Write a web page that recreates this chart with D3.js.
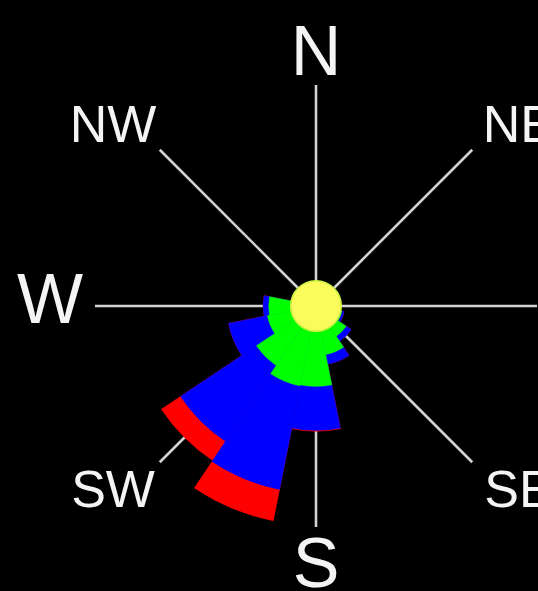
<!DOCTYPE html>
<html>
<head>
<meta charset="utf-8">
<script src="https://cdn.jsdelivr.net/npm/d3@7"></script>
<style>
  html, body { margin: 0; padding: 0; background: #000; }
  svg { display: block; }
</style>
</head>
<body>
<svg id="chart" width="538" height="591"></svg>
<script>
// 16 wind directions (bearing order, clockwise from North)
const directions = ["N","NNE","NE","ENE","E","ESE","SE","SSE","S","SSW","SW","WSW","W","WNW","NW","NNW"];
// frequency (%) per speed class, per direction
const greenValues = [0, 0, 0, 0, 1.8, 2.4, 3.3, 4.5, 7.3, 7.4, 6.5, 4.5, 4.3, 1.8, 0, 0];
const blueValues  = [0, 0, 0, 0, 0, 0.2, 0.55, 0.9, 4.0, 9.6, 8.3, 3.6, 0.5, 0, 0, 0];
const redValues   = [0, 0, 0, 0, 0, 0, 0, 0, 0.08, 2.9, 2.1, 0, 0, 0, 0, 0];
const calmValue = 2.3;
// compass labels shown in the picture
const compassLabels = ["N","NE","SE","S","SW","W","NW"];
const compassAngles = [0, 45, 135, 180, 225, 270, 315];
const spokeAngles = [0, 45, 90, 135, 180, 225, 270, 315];
const radialMax = 20;

const width = 538, height = 591;
const cx = 316, cy = 306;
const svg = d3.select("#chart");
svg.append("rect").attr("width", width).attr("height", height).attr("fill", "#000");

const r = d3.scaleLinear().domain([0, radialMax]).range([0, 220]);
const step = 2 * Math.PI / directions.length;
const bearing = d => directions.indexOf(d) * step;

const g = svg.append("g").attr("transform", `translate(${cx},${cy})`);

// spokes
const spokeLen = r(radialMax) + 1;
g.selectAll("line.spoke").data(spokeAngles).join("line")
  .attr("class", "spoke")
  .attr("x1", 0).attr("y1", 0)
  .attr("x2", a => Math.sin(a * Math.PI / 180) * spokeLen)
  .attr("y2", a => -Math.cos(a * Math.PI / 180) * spokeLen)
  .attr("stroke", "#d2d2d2").attr("stroke-width", 2.6);

// stacked sectors (drawn outermost first)
const rows = directions.map((d, i) => ({ dir: d, green: greenValues[i], blue: blueValues[i], red: redValues[i] }));
const stack = d3.stack().keys(["green", "blue", "red"])(rows);
const colors = { green: "#00ff00", blue: "#0000ff", red: "#ff0000" };
const arc = d3.arc()
  .innerRadius(0)
  .outerRadius(d => r(d[1]))
  .startAngle(d => bearing(d.data.dir) - step / 2)
  .endAngle(d => bearing(d.data.dir) + step / 2);

stack.slice().reverse().forEach(layer => {
  g.append("g").selectAll("path").data(layer.filter(d => d[1] > 0)).join("path")
    .attr("d", arc)
    .attr("fill", colors[layer.key])
    .attr("stroke", colors[layer.key])
    .attr("stroke-width", 0.6)
    .attr("stroke-linejoin", "miter");
});

// calm circle
g.append("circle").attr("r", r(calmValue)).attr("fill", "#fbfb5c")
  .attr("stroke", "#c8f040").attr("stroke-width", 1.5);

// compass labels
const labelG = svg.append("g");
compassLabels.forEach((lab, i) => {
  const a = compassAngles[i] * Math.PI / 180;
  const diag = lab.length === 2;
  const rx = diag ? 287 : 266;
  const ry = diag ? 258 : 256;
  const fs = diag ? 52 : 70;
  const x = cx + Math.sin(a) * rx;
  const horiz = (lab === "W" || lab === "E");
  const y = cy - Math.cos(a) * ry - (horiz ? 8 : 0);
  labelG.append("text")
    .attr("x", x).attr("y", y + fs * 0.716 / 2)
    .attr("text-anchor", "middle")
    .attr("font-family", "'Liberation Sans', Arial, sans-serif")
    .attr("font-size", fs)
    .attr("fill", "#f4f4f4")
    .text(lab);
});
</script>
</body>
</html>
